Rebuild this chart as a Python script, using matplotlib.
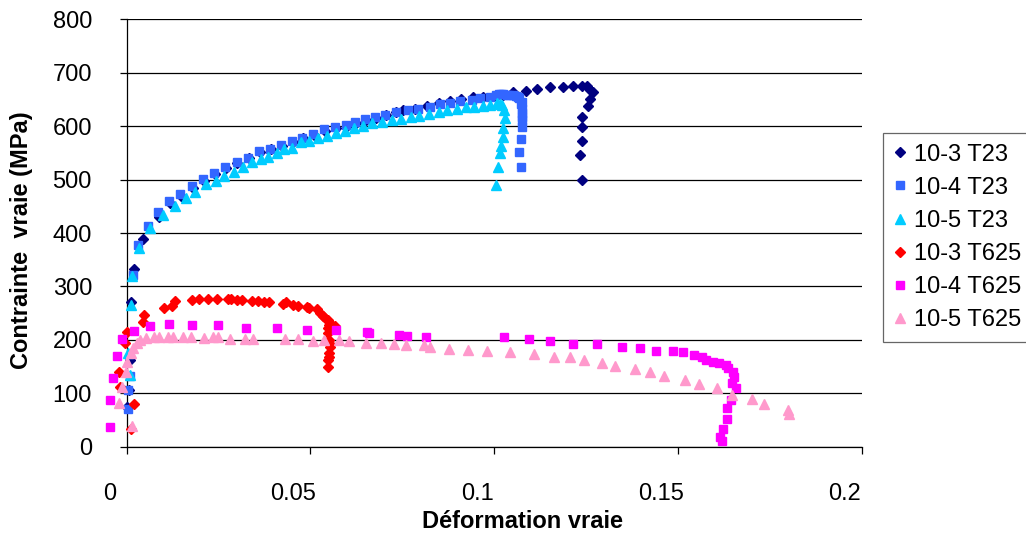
import matplotlib
matplotlib.use("Agg")
import matplotlib.pyplot as plt
from matplotlib.transforms import ScaledTranslation

plt.rcParams['font.family'] = ['Liberation Sans', 'DejaVu Sans']

# ---------------- data ----------------
x_10_3_T23 = [0.0002, 0.0007, 0.0009, 0.0013, 0.0021, 0.0044, 0.0089, 0.0118, 0.0148, 0.0180,
              0.0210, 0.0240, 0.0270, 0.0300, 0.0333, 0.0363, 0.0392, 0.0422, 0.0452, 0.0480,
              0.0510, 0.0540, 0.0570, 0.0600, 0.0625, 0.0650, 0.0678, 0.0705, 0.0734, 0.0753,
              0.0785, 0.0816, 0.0850, 0.0880, 0.0910, 0.0943, 0.0970, 0.1000, 0.1025, 0.1052,
              0.1087, 0.1117, 0.1152, 0.1188, 0.1215, 0.1238, 0.1252, 0.1262, 0.1270, 0.1262,
              0.1256, 0.1238, 0.1238, 0.1238, 0.1234, 0.1238]
y_10_3_T23 = [75, 106, 162, 270, 333, 389, 430, 456, 470, 485,
              498, 511, 521, 531, 540, 551, 557, 563, 570, 577,
              583, 591, 597, 601, 606, 611, 616, 620, 626, 630,
              633, 638, 644, 648, 651, 655, 655, 657, 659, 663,
              666, 669, 674, 673, 675, 675, 675, 668, 663, 650,
              638, 618, 598, 573, 546, 499]

x_10_4_T23 = [0.0004, 0.0004, 0.0009, 0.0017, 0.0030, 0.0057, 0.0086, 0.0116, 0.0146, 0.0177,
              0.0208, 0.0238, 0.0268, 0.0299, 0.0331, 0.0361, 0.0390, 0.0420, 0.0449, 0.0476,
              0.0508, 0.0538, 0.0567, 0.0597, 0.0621, 0.0648, 0.0676, 0.0703, 0.0734, 0.0766,
              0.0794, 0.0826, 0.0853, 0.0880, 0.0907, 0.0939, 0.0961, 0.0988, 0.1005, 0.1012,
              0.1018, 0.1025, 0.1034, 0.1040, 0.1052, 0.1058, 0.1066, 0.1068, 0.1073, 0.1075,
              0.1076, 0.1077, 0.1077, 0.1077, 0.1076, 0.1072, 0.1067, 0.1072]
y_10_4_T23 = [70, 106, 132, 321, 377, 414, 440, 460, 473, 488,
              501, 513, 524, 533, 541, 554, 558, 565, 572, 578,
              585, 594, 598, 602, 608, 613, 618, 621, 627, 630,
              633, 636, 641, 644, 648, 649, 652, 655, 659, 660,
              660, 660, 659, 659, 658, 657, 654, 652, 642, 646,
              625, 633, 618, 611, 598, 576, 552, 524]

x_10_5_T23 = [0.0009, 0.0004, 0.0011, 0.0014, 0.0034, 0.0063, 0.0100, 0.0131, 0.0160, 0.0186,
              0.0216, 0.0243, 0.0265, 0.0292, 0.0316, 0.0340, 0.0365, 0.0385, 0.0408, 0.0428,
              0.0451, 0.0474, 0.0497, 0.0520, 0.0544, 0.0570, 0.0594, 0.0618, 0.0642, 0.0667,
              0.0694, 0.0721, 0.0746, 0.0773, 0.0796, 0.0823, 0.0850, 0.0872, 0.0898, 0.0922,
              0.0945, 0.0969, 0.0988, 0.1007, 0.1015, 0.1020, 0.1027, 0.1029, 0.1023, 0.1025,
              0.1018, 0.1016, 0.1011, 0.1005]
y_10_5_T23 = [134, 175, 265, 319, 372, 409, 434, 450, 465, 477,
              492, 498, 507, 514, 523, 532, 538, 543, 549, 557,
              560, 570, 572, 577, 582, 588, 591, 596, 600, 605,
              608, 611, 614, 618, 619, 623, 626, 630, 632, 635,
              636, 638, 640, 643, 642, 640, 630, 615, 596, 579,
              563, 550, 524, 490]

x_10_3_T625 = [0.0013, 0.0021, -0.0018, -0.0021, -0.0005, 0.0000, 0.0045, 0.0048, 0.0101, 0.0122,
               0.0131, 0.0177, 0.0198, 0.0222, 0.0245, 0.0276, 0.0285, 0.0299, 0.0313, 0.0340,
               0.0356, 0.0374, 0.0388, 0.0424, 0.0433, 0.0453, 0.0465, 0.0490, 0.0497, 0.0517,
               0.0526, 0.0533, 0.0540, 0.0547, 0.0553, 0.0567, 0.0550, 0.0547, 0.0549, 0.0551,
               0.0553, 0.0552, 0.0551, 0.0550, 0.0549, 0.0549]
y_10_3_T625 = [33, 80, 112, 140, 195, 215, 234, 246, 259, 264,
               273, 275, 276, 277, 277, 277, 276, 275, 275, 273,
               273, 270, 270, 268, 270, 265, 264, 262, 259, 257,
               251, 245, 241, 238, 231, 226, 228, 222, 212, 200,
               193, 187, 175, 168, 162, 150]

x_10_4_T625 = [-0.0045, -0.0045, -0.0036, -0.0026, -0.0014, 0.0021, 0.0063, 0.0116, 0.0179, 0.0248,
               0.0324, 0.0410, 0.0491, 0.0570, 0.0653, 0.0660, 0.0742, 0.0764, 0.0814, 0.1027,
               0.1095, 0.1152, 0.1215, 0.1281, 0.1347, 0.1397, 0.1440, 0.1487, 0.1514, 0.1543,
               0.1566, 0.1575, 0.1596, 0.1612, 0.1631, 0.1637, 0.1649, 0.1652, 0.1646, 0.1657,
               0.1644, 0.1634, 0.1633, 0.1623, 0.1614, 0.1619]
y_10_4_T625 = [37, 87, 128, 170, 201, 216, 226, 230, 228, 228,
               223, 223, 218, 218, 214, 212, 210, 207, 206, 206,
               201, 198, 193, 192, 187, 184, 180, 180, 178, 172,
               168, 162, 159, 156, 152, 148, 140, 130, 119, 109,
               87, 72, 52, 34, 19, 11]

x_10_5_T625 = [0.0014, -0.0021, -0.0012, -0.0002, 0.0000, 0.0012, 0.0018, 0.0027, 0.0036, 0.0053,
               0.0074, 0.0089, 0.0113, 0.0127, 0.0154, 0.0174, 0.0210, 0.0236, 0.0249, 0.0281,
               0.0322, 0.0344, 0.0431, 0.0467, 0.0506, 0.0537, 0.0579, 0.0606, 0.0651, 0.0692,
               0.0727, 0.0760, 0.0809, 0.0825, 0.0877, 0.0928, 0.0981, 0.1043, 0.1109, 0.1163,
               0.1206, 0.1245, 0.1292, 0.1329, 0.1383, 0.1424, 0.1463, 0.1519, 0.1558, 0.1606,
               0.1648, 0.1701, 0.1734, 0.1800, 0.1803]
y_10_5_T625 = [39, 81, 111, 139, 159, 175, 184, 194, 200, 203,
               205, 205, 205, 205, 205, 205, 203, 205, 205, 201,
               201, 201, 201, 201, 198, 200, 200, 197, 195, 195,
               192, 190, 190, 187, 183, 181, 179, 177, 173, 168,
               167, 162, 156, 151, 145, 140, 133, 125, 117, 109,
               97, 89, 79, 69, 61]

series_labels = ["10-3 T23", "10-4 T23", "10-5 T23", "10-3 T625", "10-4 T625", "10-5 T625"]
series_x = [x_10_3_T23, x_10_4_T23, x_10_5_T23, x_10_3_T625, x_10_4_T625, x_10_5_T625]
series_y = [y_10_3_T23, y_10_4_T23, y_10_5_T23, y_10_3_T625, y_10_4_T625, y_10_5_T625]

x_ticks = [0, 0.05, 0.1, 0.15, 0.2]
x_tick_labels = ["0", "0.05", "0.1", "0.15", "0.2"]
y_ticks = [0, 100, 200, 300, 400, 500, 600, 700, 800]

# ---------------- styles ----------------
markers = ['D', 's', '^', 'D', 's', '^']
sizes = [5.0, 6.0, 7.0, 5.0, 6.0, 7.0]
colors = ['#000080', '#3366FF', '#00CCFF', '#FF0000', '#FF00FF', '#FF99CC']

W, H = 1026, 533
fig = plt.figure(figsize=(W / 100, H / 100), dpi=100)
ax = fig.add_axes([126.7 / W, 1 - 446.7 / H, (861.7 - 126.7) / W, (446.7 - 19.3) / H])

for xs, ys, lab, m, s, c in zip(series_x, series_y, series_labels, markers, sizes, colors):
    ax.plot(xs, ys, linestyle='none', marker=m, markersize=s, color=c,
            markeredgecolor=c, label=lab, clip_on=False, zorder=3)

ax.set_xlim(0, 0.2)
ax.set_ylim(0, 800)
ax.set_xticks(x_ticks)
ax.set_xticklabels(x_tick_labels)
ax.set_yticks(y_ticks)
ax.grid(axis='y', color='black', linewidth=0.9)
ax.set_axisbelow(True)
for side in ['top', 'right']:
    ax.spines[side].set_visible(False)
for side in ['left', 'bottom']:
    ax.spines[side].set_color('black')
    ax.spines[side].set_linewidth(0.9)
ax.tick_params(axis='both', direction='out', length=5, width=0.9, color='black',
               labelsize=17, labelcolor='black')
ax.tick_params(axis='x', pad=21)
ax.tick_params(axis='y', pad=20)

# Excel-like offset of x tick labels
offset = ScaledTranslation(-17 / 100, 0, fig.dpi_scale_trans)
for lbl in ax.get_xticklabels():
    lbl.set_transform(lbl.get_transform() + offset)

fig.text(522 / W, 1 - 521 / H, "Déformation vraie", ha='center', va='center',
         fontsize=17, fontweight='bold')
fig.text(22 / W, 1 - 240 / H, "Contrainte  vraie (MPa)", ha='center', va='center',
         rotation=90, fontsize=17, fontweight='bold')

leg = fig.legend(loc='upper left', bbox_to_anchor=(883 / W, 1 - 133 / H),
                 bbox_transform=fig.transFigure, fontsize=17, numpoints=1,
                 handlelength=0.5, handletextpad=0.35, labelspacing=0.47,
                 borderpad=0.45, borderaxespad=0, frameon=True, fancybox=False)
leg.get_frame().set_edgecolor('#404040')
leg.get_frame().set_linewidth(0.9)

fig.savefig("out.png", dpi=100)
